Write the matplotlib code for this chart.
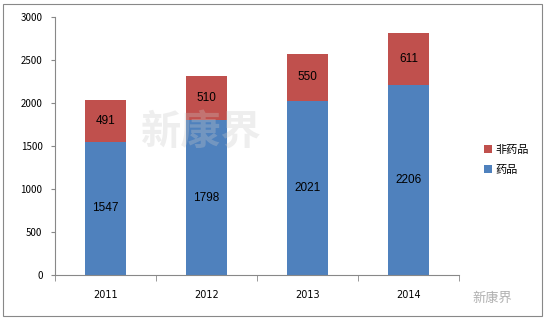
import matplotlib.pyplot as plt
from matplotlib.patches import Rectangle
import numpy as np

plt.rcParams['font.family'] = ['Noto Sans CJK SC', 'DejaVu Sans']

years = ["2011", "2012", "2013", "2014"]
drugs = [1547, 1798, 2021, 2206]
non_drugs = [491, 510, 550, 611]

blue = "#4F81BD"
red = "#C0504D"

fig = plt.figure(figsize=(5.45, 3.2), dpi=100)
ax = fig.add_axes([0.101, 0.141, 0.741, 0.806])

x = np.arange(len(years))
b1 = ax.bar(x, drugs, width=0.4, color=blue, label="药品")
b2 = ax.bar(x, non_drugs, width=0.4, bottom=drugs, color=red, label="非药品")

for i in range(len(years)):
    ax.text(x[i], drugs[i] / 2, str(drugs[i]), ha="center", va="center",
            fontsize=8.5, family="Liberation Sans")
    ax.text(x[i], drugs[i] + non_drugs[i] / 2, str(non_drugs[i]), ha="center",
            va="center", fontsize=8.5, family="Liberation Sans")

ax.set_xlim(-0.5, len(years) - 0.5)
ax.set_ylim(0, 3000)
ax.set_yticks(range(0, 3001, 500))
ax.tick_params(axis="y", labelsize=7, length=3, color="#888888", pad=6)
ax.set_xticks(x)
ax.set_xticklabels(years, fontsize=7, family="DejaVu Sans")
ax.tick_params(axis="x", length=0, pad=11)
ax.set_xticks(np.arange(-0.5, len(years), 1), minor=True)
ax.tick_params(axis="x", which="minor", length=4, color="#888888")
for s in ["top", "right"]:
    ax.spines[s].set_visible(False)
for s in ["left", "bottom"]:
    ax.spines[s].set_color("#888888")

handles = [b2, b1]
fig.legend(handles, ["非药品", "药品"], loc="center left", bbox_to_anchor=(0.87, 0.5),
           frameon=False, fontsize=8, handlelength=0.7, handleheight=0.7,
           handletextpad=0.3, labelspacing=0.9)

# watermark
fig.text(0.37, 0.585, "新康界", fontsize=29, color="#c8c8c8", alpha=0.3,
         ha="center", va="center", fontweight="bold")
fig.text(0.94, 0.068, "新康界", fontsize=9.5, color="#b0b0b0", ha="right", va="center")

fig.add_artist(Rectangle((0.006, 0.012), 0.988, 0.976, transform=fig.transFigure,
                         fill=False, edgecolor="#888888", linewidth=0.8))

fig.savefig("out.png", dpi=100)
